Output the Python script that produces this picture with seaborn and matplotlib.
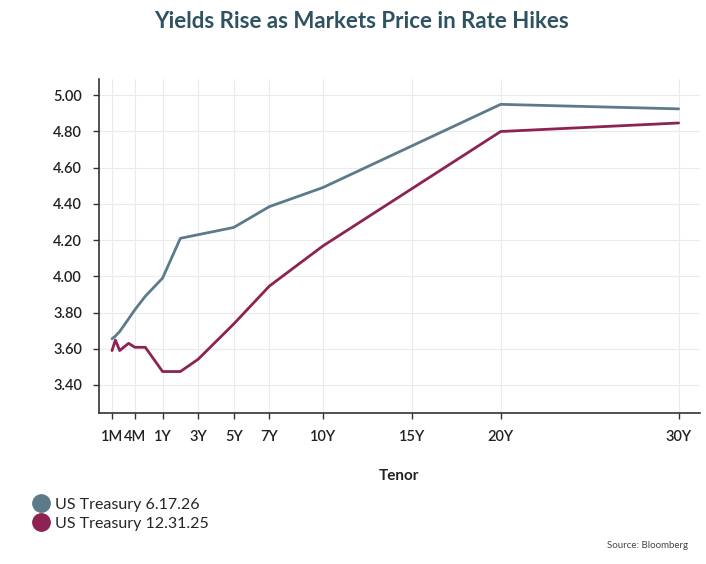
import numpy as np
import pandas as pd
import seaborn as sns
import matplotlib.pyplot as plt
from matplotlib.lines import Line2D

# tenors and their positions on the x axis (years; short end is stretched as in the source chart)
tenors = ['1M', '1.5M', '2M', '3M', '4M', '6M', '1Y', '2Y', '3Y', '5Y', '7Y', '10Y', '20Y', '30Y']
tenor_x = [-1.84, -1.65, -1.41, -0.91, -0.56, 0.03, 1.0, 2.0, 3.0, 5.0, 7.0, 10.0, 20.0, 30.0]

yield_jun26 = [3.655, 3.67, 3.695, 3.765, 3.815, 3.89, 3.99, 4.21, 4.23, 4.27, 4.385, 4.49, 4.95, 4.925]
yield_dec25 = [3.59, 3.648, 3.59, 3.63, 3.608, 3.608, 3.474, 3.474, 3.542, 3.737, 3.946, 4.167, 4.80, 4.847]

series_names = ['US Treasury 6.17.26', 'US Treasury 12.31.25']
colors = ['#5b7b8b', '#8c2352']

tick_labels = ['1M', '4M', '1Y', '3Y', '5Y', '7Y', '10Y', '15Y', '20Y', '30Y']
tick_x = [-1.84, -0.56, 1, 3, 5, 7, 10, 15, 20, 30]
y_ticks = [3.40, 3.60, 3.80, 4.00, 4.20, 4.40, 4.60, 4.80, 5.00]

df = pd.concat([
    pd.DataFrame({'x': tenor_x, 'tenor': tenors, 'yield': yield_jun26, 'series': series_names[0]}),
    pd.DataFrame({'x': tenor_x, 'tenor': tenors, 'yield': yield_dec25, 'series': series_names[1]}),
])

sns.set_style('whitegrid')
plt.rcParams['font.family'] = ['Lato', 'DejaVu Sans']

fig = plt.figure(figsize=(7.06, 5.64), dpi=100)
ax = fig.add_axes([98.5 / 706, 1 - 413 / 564, (700 - 98.5) / 706, (413 - 79) / 564])

sns.lineplot(ax=ax, data=df, x='x', y='yield', hue='series',
             palette=dict(zip(series_names, colors)), linewidth=2.0,
             sort=False, legend=False)

ax.set_xlim(-2.6, 31.2)
ax.set_ylim(3.245, 5.09)
ax.set_xticks(tick_x)
ax.set_xticklabels(tick_labels, fontsize=10.5, fontweight='semibold', color='#222222')
ax.set_yticks(y_ticks)
ax.set_yticklabels(['%.2f' % v for v in y_ticks], fontsize=10.5, fontweight='semibold', color='#222222')
ax.tick_params(axis='both', length=4, width=1, color='#333333', pad=8, bottom=True, left=True)
ax.grid(True, color='#ebebeb', linewidth=0.8)
ax.set_xlabel('Tenor', fontsize=11, fontweight='bold', color='#222222', labelpad=18)
ax.set_ylabel('')
for side in ['top', 'right']:
    ax.spines[side].set_visible(False)
for side in ['left', 'bottom']:
    ax.spines[side].set_color('#333333')
    ax.spines[side].set_linewidth(1.2)

fig.text(361 / 706, 1 - 22 / 564, 'Yields Rise as Markets Price in Rate Hikes',
         ha='center', va='center', fontsize=16, fontweight='bold', color='#2e5260')

handles = [Line2D([], [], linestyle='none', marker='o', markersize=12.5,
                  markerfacecolor=c, markeredgecolor=c) for c in colors]
fig.legend(handles, series_names, loc='upper left', bbox_to_anchor=(26 / 706, 1 - 491 / 564),
           frameon=False, fontsize=11.5, handletextpad=0.3, labelspacing=0.3,
           borderaxespad=0, handlelength=1.1)

fig.text(688 / 706, 1 - 546 / 564, 'Source: Bloomberg', ha='right', va='center',
         fontsize=7, color='#444444')

fig.savefig('out.png', dpi=100)
